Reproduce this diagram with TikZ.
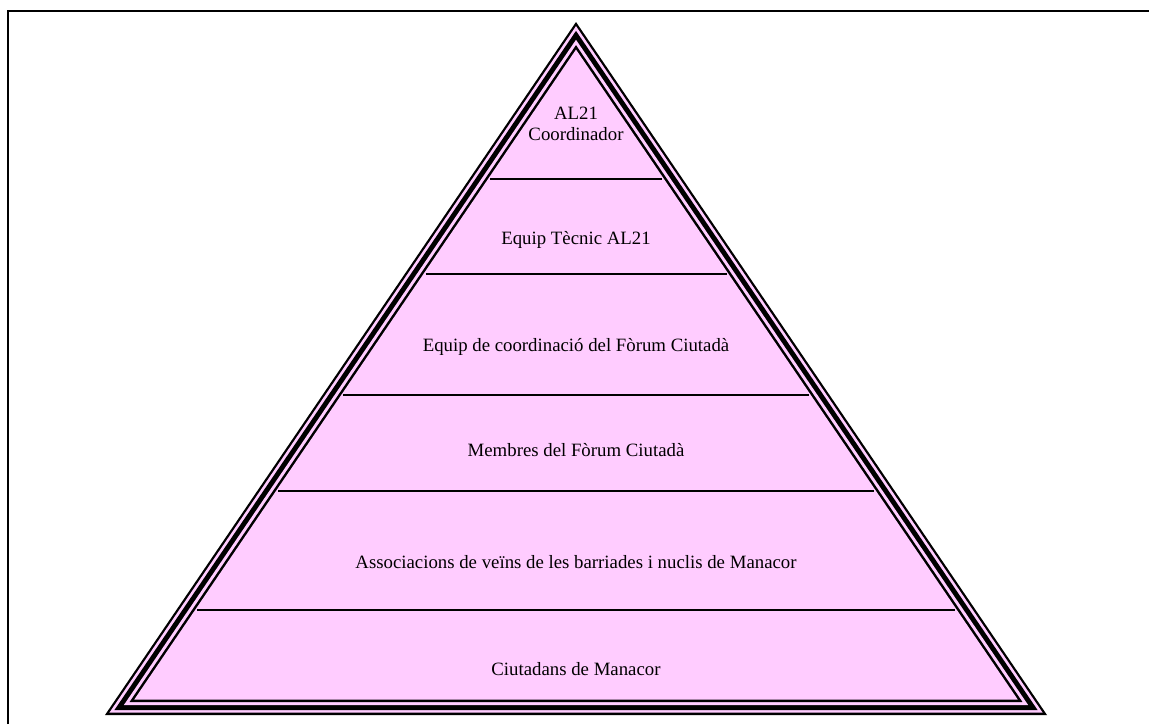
\documentclass[tikz,border=0pt]{standalone}
\usepackage{fontspec}
\setmainfont{Liberation Serif}
\usetikzlibrary{calc}
\definecolor{piramide}{HTML}{FFCCFF}

\begin{document}
\begin{tikzpicture}[x=0.02cm, y=-0.02cm,
  nivell/.style={font=\fontsize{10.7}{12}\selectfont, align=center, inner sep=0pt},
  divisio/.style={line width=0.85pt}]
  \useasboundingbox (0,0) rectangle (1149,724);
  % marc
  \draw[line width=1.2pt] (8,724) -- (8,11) -- (1149,11);
  % piramide amb vora triple
  \coordinate (A) at (105,715);
  \coordinate (B) at (1047,715);
  \coordinate (C) at (576,22);
  \coordinate (I) at (576,465.6);
  \foreach \d/\col in {0/black, 2.3/piramide, 5/black, 10/piramide, 13/black, 15.5/piramide}{
    \pgfmathsetmacro\f{(249.4-\d)/249.4}
    \fill[\col] ($(I)!\f!(A)$) -- ($(I)!\f!(B)$) -- ($(I)!\f!(C)$) -- cycle;
  }
  % divisions
  \foreach \y/\l in {179/490, 274/425.5, 395/343.3, 491/278, 610/197}
    \draw[divisio] (\l,\y) -- (1152-\l,\y);
  % nivells
  \node[nivell] (coordinador)  at (576,124) {AL21\\Coordinador};
  \node[nivell] (tecnic)       at (576,240) {Equip Tècnic AL21};
  \node[nivell] (equipforum)   at (576,347) {Equip de coordinació del Fòrum Ciutadà};
  \node[nivell] (membres)      at (576,450) {Membres del Fòrum Ciutadà};
  \node[nivell] (associacions) at (576,562) {Associacions de veïns de les barriades i nuclis de Manacor};
  \node[nivell] (ciutadans)    at (576,669) {Ciutadans de Manacor};
\end{tikzpicture}
\end{document}
